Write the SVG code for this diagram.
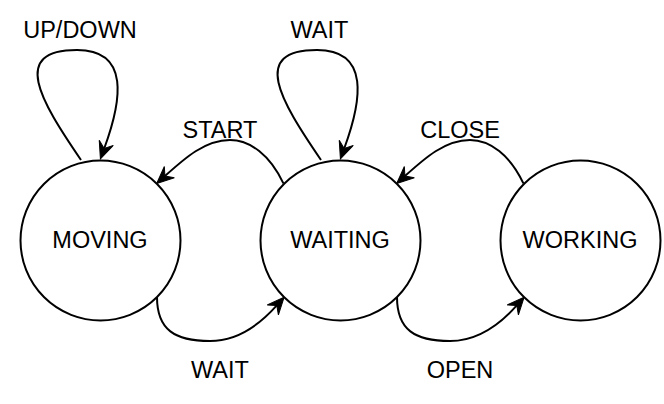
<svg xmlns="http://www.w3.org/2000/svg" width="664" height="404" viewBox="0 0 664 404">
<style>
.st{fill:#fff;stroke:#000;stroke-width:2}
.e{fill:none;stroke:#000;stroke-width:2}
text{font-family:"Liberation Sans",Arial,sans-serif;font-size:23.5px;fill:#000;text-anchor:middle}
</style>
<defs>
<marker id="arr" markerUnits="userSpaceOnUse" markerWidth="30" markerHeight="30" viewBox="-20 -10 30 20" refX="-11" refY="0" orient="auto">
<path d="M0,0 L-17,-7.5 L-11,0 L-17,7.5 Z" fill="#000" stroke="#000" stroke-width="1" stroke-linejoin="miter"/>
</marker>
</defs>
<rect width="664" height="404" fill="#fff"/>
<g id="connectors">
<path class="e" marker-end="url(#arr)" d="M81,160 C40,100 10,50 77,50 C130,50 122,100 104.2,148.5"/>
<path class="e" marker-end="url(#arr)" d="M321,160 C280,100 250,50 317,50 C370,50 362,100 344.2,148.5"/>
<path class="e" marker-end="url(#arr)" d="M283.4,183.4 C270,155 250,140 230,140 C205,140 185,158 164.9,176.1"/>
<path class="e" marker-end="url(#arr)" d="M523.4,183.4 C510,155 490,140 470,140 C445,140 425,158 404.9,176.1"/>
<path class="e" marker-end="url(#arr)" d="M157,297 C157,330 175,341 210,341 C240,341 262,322 276.8,305.4"/>
<path class="e" marker-end="url(#arr)" d="M397,297 C397,330 415,341 450,341 C480,341 502,322 516.8,305.4"/>
</g>
<g id="labels">
<text x="80" y="38.3">UP/DOWN</text>
<text x="319.5" y="38.3">WAIT</text>
<text x="220" y="137.5">START</text>
<text x="460" y="137.5">CLOSE</text>
<text x="220" y="378.3">WAIT</text>
<text x="460" y="378.3">OPEN</text>
</g>
<g id="moving"><circle class="st" cx="100.5" cy="240.5" r="80"/><text x="100" y="247.7">MOVING</text></g>
<g id="waiting"><circle class="st" cx="340.5" cy="240.5" r="80"/><text x="340" y="247.7">WAITING</text></g>
<g id="working"><circle class="st" cx="580.5" cy="240.5" r="80"/><text x="580" y="247.7">WORKING</text></g>
</svg>
